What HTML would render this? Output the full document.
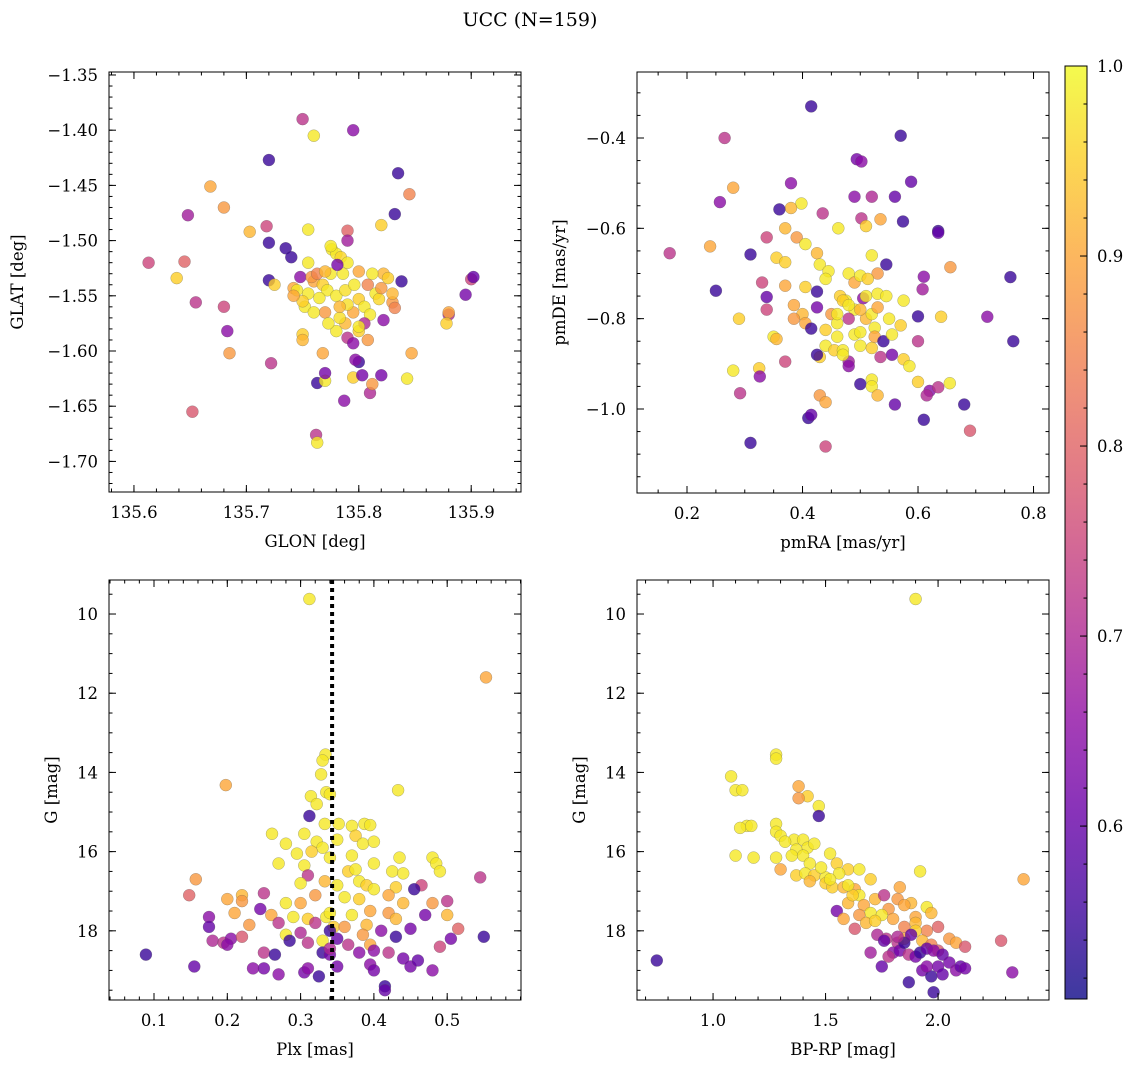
<!DOCTYPE html>
<html><head><meta charset="utf-8"><style>
html,body{margin:0;padding:0;background:#fff;}
svg{display:block;font-family:"DejaVu Serif","Liberation Serif",serif;}
</style></head><body>
<svg id="fig" width="1136" height="1067" viewBox="0 0 1136 1067" xmlns="http://www.w3.org/2000/svg">
<text x="530" y="26" text-anchor="middle" font-size="19">UCC (N=159)</text>
</svg>
<script>
// ---- data: [x, y, membership probability] ----
const posPts = [[135.75,-1.39,0.72],[135.76,-1.405,0.98],[135.795,-1.40,0.65],[135.72,-1.427,0.55],[135.835,-1.439,0.55],[135.845,-1.458,0.85],[135.668,-1.451,0.9],[135.648,-1.477,0.68],[135.68,-1.47,0.88],[135.832,-1.476,0.55],[135.703,-1.492,0.92],[135.718,-1.487,0.75],[135.755,-1.49,0.98],[135.82,-1.486,0.95],[135.72,-1.502,0.55],[135.79,-1.491,0.8],[135.79,-1.50,0.68],[135.735,-1.507,0.55],[135.613,-1.52,0.75],[135.645,-1.519,0.8],[135.638,-1.534,0.95],[135.655,-1.556,0.72],[135.68,-1.56,0.75],[135.683,-1.582,0.65],[135.685,-1.602,0.88],[135.652,-1.655,0.78],[135.722,-1.611,0.72],[135.72,-1.536,0.55],[135.725,-1.54,0.95],[135.74,-1.515,0.55],[135.742,-1.543,0.9],[135.748,-1.533,0.65],[135.755,-1.52,0.98],[135.75,-1.585,0.95],[135.75,-1.59,0.92],[135.752,-1.56,0.98],[135.763,-1.629,0.55],[135.77,-1.627,0.98],[135.77,-1.62,0.62],[135.768,-1.602,0.9],[135.762,-1.676,0.72],[135.763,-1.683,0.98],[135.787,-1.645,0.65],[135.795,-1.624,0.95],[135.8,-1.61,0.55],[135.797,-1.608,0.65],[135.81,-1.638,0.7],[135.812,-1.63,0.88],[135.82,-1.622,0.62],[135.803,-1.622,0.62],[135.843,-1.625,0.98],[135.847,-1.602,0.9],[135.808,-1.59,0.88],[135.8,-1.582,0.95],[135.822,-1.572,0.65],[135.88,-1.567,0.7],[135.88,-1.565,0.9],[135.878,-1.575,0.95],[135.895,-1.549,0.62],[135.9,-1.535,0.75],[135.902,-1.533,0.6],[135.838,-1.537,0.55],[135.83,-1.556,0.88],[135.832,-1.561,0.85],[135.822,-1.53,0.92],[135.776,-1.508,0.98],[135.78,-1.512,0.98],[135.784,-1.515,0.96],[135.79,-1.52,0.98],[135.775,-1.53,0.98],[135.76,-1.537,0.9],[135.768,-1.54,0.95],[135.772,-1.545,0.98],[135.78,-1.55,0.98],[135.788,-1.545,0.97],[135.796,-1.54,0.98],[135.8,-1.553,0.95],[135.805,-1.56,0.98],[135.81,-1.567,0.98],[135.795,-1.565,0.9],[135.788,-1.575,0.92],[135.78,-1.582,0.98],[135.79,-1.588,0.72],[135.795,-1.593,0.65],[135.783,-1.57,0.97],[135.77,-1.565,0.88],[135.765,-1.552,0.98],[135.755,-1.548,0.98],[135.75,-1.555,0.95],[135.745,-1.545,0.98],[135.742,-1.55,0.9],[135.758,-1.533,0.88],[135.763,-1.53,0.85],[135.77,-1.528,0.92],[135.786,-1.53,0.98],[135.8,-1.528,0.9],[135.808,-1.54,0.85],[135.815,-1.548,0.98],[135.818,-1.553,0.96],[135.82,-1.543,0.88],[135.812,-1.53,0.98],[135.826,-1.534,0.95],[135.83,-1.548,0.92],[135.805,-1.575,0.7],[135.8,-1.578,0.98],[135.775,-1.505,0.98],[135.781,-1.522,0.62],[135.79,-1.558,0.97],[135.783,-1.56,0.92],[135.773,-1.575,0.98],[135.76,-1.565,0.98]];
const pmPts = [[0.415,-0.33,0.55],[0.57,-0.395,0.55],[0.265,-0.40,0.72],[0.588,-0.497,0.6],[0.38,-0.50,0.65],[0.494,-0.447,0.62],[0.502,-0.452,0.65],[0.28,-0.51,0.9],[0.257,-0.542,0.65],[0.398,-0.545,0.98],[0.38,-0.555,0.92],[0.36,-0.558,0.55],[0.435,-0.567,0.72],[0.52,-0.53,0.7],[0.49,-0.53,0.65],[0.56,-0.53,0.6],[0.535,-0.58,0.9],[0.502,-0.578,0.72],[0.574,-0.585,0.55],[0.635,-0.606,0.55],[0.635,-0.61,0.6],[0.462,-0.60,0.98],[0.51,-0.595,0.95],[0.37,-0.6,0.92],[0.39,-0.62,0.88],[0.405,-0.635,0.98],[0.338,-0.62,0.75],[0.24,-0.64,0.9],[0.17,-0.655,0.72],[0.31,-0.658,0.55],[0.355,-0.665,0.95],[0.37,-0.675,0.95],[0.425,-0.655,0.92],[0.43,-0.68,0.98],[0.445,-0.695,0.98],[0.52,-0.66,0.98],[0.545,-0.68,0.55],[0.61,-0.707,0.65],[0.656,-0.686,0.88],[0.76,-0.708,0.55],[0.25,-0.738,0.55],[0.37,-0.727,0.9],[0.405,-0.73,0.95],[0.425,-0.74,0.55],[0.44,-0.712,0.98],[0.48,-0.7,0.98],[0.49,-0.72,0.9],[0.5,-0.705,0.98],[0.53,-0.7,0.88],[0.513,-0.712,0.95],[0.465,-0.75,0.95],[0.475,-0.76,0.98],[0.49,-0.78,0.98],[0.505,-0.755,0.65],[0.51,-0.75,0.98],[0.53,-0.745,0.98],[0.545,-0.75,0.98],[0.575,-0.76,0.98],[0.608,-0.735,0.68],[0.33,-0.72,0.75],[0.338,-0.752,0.6],[0.338,-0.78,0.75],[0.385,-0.77,0.9],[0.4,-0.79,0.92],[0.425,-0.775,0.62],[0.45,-0.79,0.88],[0.46,-0.81,0.98],[0.47,-0.76,0.95],[0.48,-0.8,0.72],[0.51,-0.8,0.92],[0.52,-0.79,0.98],[0.53,-0.775,0.9],[0.55,-0.8,0.98],[0.57,-0.815,0.95],[0.6,-0.795,0.55],[0.64,-0.796,0.95],[0.72,-0.796,0.65],[0.765,-0.85,0.55],[0.29,-0.8,0.95],[0.405,-0.81,0.9],[0.385,-0.8,0.88],[0.415,-0.822,0.55],[0.44,-0.825,0.95],[0.46,-0.84,0.98],[0.49,-0.835,0.98],[0.5,-0.83,0.98],[0.525,-0.82,0.98],[0.525,-0.84,0.9],[0.54,-0.85,0.55],[0.555,-0.835,0.98],[0.6,-0.85,0.72],[0.35,-0.84,0.98],[0.355,-0.845,0.92],[0.44,-0.86,0.98],[0.455,-0.87,0.95],[0.47,-0.87,0.98],[0.5,-0.86,0.98],[0.52,-0.865,0.95],[0.555,-0.88,0.62],[0.575,-0.89,0.95],[0.43,-0.885,0.95],[0.425,-0.88,0.55],[0.48,-0.895,0.68],[0.48,-0.905,0.65],[0.47,-0.88,0.98],[0.535,-0.885,0.72],[0.37,-0.895,0.75],[0.28,-0.915,0.98],[0.325,-0.91,0.95],[0.326,-0.928,0.65],[0.292,-0.965,0.72],[0.5,-0.945,0.55],[0.52,-0.935,0.98],[0.52,-0.95,0.98],[0.53,-0.97,0.92],[0.585,-0.905,0.98],[0.6,-0.94,0.95],[0.62,-0.96,0.65],[0.615,-0.97,0.7],[0.655,-0.943,0.98],[0.635,-0.952,0.72],[0.56,-0.99,0.6],[0.43,-0.97,0.88],[0.44,-0.985,0.9],[0.41,-1.02,0.55],[0.415,-1.013,0.6],[0.61,-1.024,0.55],[0.68,-0.99,0.55],[0.69,-1.048,0.78],[0.44,-1.083,0.75],[0.31,-1.075,0.55],[0.46,-0.79,0.98],[0.48,-0.77,0.98],[0.5,-0.78,0.92]];
const plxPts = [[0.312,9.62,0.98],[0.553,11.6,0.9],[0.334,13.55,0.98],[0.33,13.7,0.98],[0.328,14.05,0.98],[0.198,14.32,0.9],[0.335,14.5,0.98],[0.34,14.55,0.98],[0.314,14.6,0.98],[0.433,14.45,0.98],[0.322,14.8,0.98],[0.312,15.1,0.55],[0.387,15.3,0.98],[0.395,15.33,0.98],[0.37,15.35,0.98],[0.352,15.3,0.98],[0.333,15.3,0.98],[0.261,15.55,0.98],[0.305,15.55,0.98],[0.322,15.75,0.98],[0.375,15.6,0.95],[0.35,15.7,0.98],[0.385,15.8,0.98],[0.4,15.75,0.98],[0.28,15.8,0.98],[0.33,15.9,0.98],[0.295,16.05,0.98],[0.315,16.0,0.95],[0.37,16.1,0.98],[0.4,16.3,0.98],[0.435,16.15,0.98],[0.48,16.15,0.98],[0.485,16.3,0.98],[0.34,16.15,0.98],[0.27,16.3,0.98],[0.305,16.35,0.98],[0.365,16.5,0.95],[0.375,16.45,0.98],[0.425,16.5,0.98],[0.44,16.55,0.98],[0.49,16.5,0.98],[0.545,16.65,0.72],[0.157,16.7,0.88],[0.31,16.6,0.72],[0.3,16.8,0.98],[0.333,16.75,0.92],[0.35,16.85,0.98],[0.38,16.75,0.98],[0.39,16.85,0.95],[0.4,16.95,0.98],[0.43,16.9,0.95],[0.465,16.85,0.75],[0.455,16.95,0.55],[0.148,17.1,0.8],[0.25,17.05,0.72],[0.2,17.2,0.9],[0.22,17.1,0.92],[0.22,17.25,0.88],[0.28,17.3,0.98],[0.3,17.3,0.9],[0.32,17.1,0.88],[0.36,17.15,0.98],[0.38,17.2,0.95],[0.42,17.1,0.9],[0.44,17.3,0.92],[0.48,17.3,0.88],[0.5,17.25,0.72],[0.21,17.55,0.9],[0.245,17.45,0.62],[0.26,17.6,0.9],[0.29,17.65,0.98],[0.31,17.7,0.95],[0.335,17.65,0.98],[0.34,17.55,0.98],[0.37,17.6,0.98],[0.395,17.5,0.9],[0.42,17.55,0.88],[0.47,17.6,0.62],[0.5,17.6,0.92],[0.175,17.65,0.65],[0.175,17.9,0.6],[0.23,17.85,0.88],[0.27,17.8,0.72],[0.32,17.8,0.72],[0.345,17.9,0.95],[0.36,17.9,0.88],[0.39,17.85,0.92],[0.43,17.7,0.92],[0.45,17.95,0.62],[0.515,17.95,0.8],[0.18,18.25,0.7],[0.195,18.3,0.72],[0.205,18.2,0.65],[0.22,18.15,0.78],[0.28,18.1,0.98],[0.285,18.25,0.55],[0.3,18.05,0.7],[0.31,18.3,0.72],[0.33,18.25,0.98],[0.34,18.0,0.55],[0.35,18.2,0.6],[0.365,18.35,0.72],[0.385,18.1,0.88],[0.395,18.35,0.9],[0.41,18.0,0.65],[0.43,18.15,0.55],[0.49,18.4,0.75],[0.505,18.2,0.62],[0.55,18.15,0.55],[0.089,18.6,0.55],[0.25,18.55,0.72],[0.265,18.6,0.55],[0.33,18.55,0.55],[0.34,18.6,0.62],[0.38,18.55,0.65],[0.4,18.5,0.65],[0.42,18.55,0.72],[0.44,18.7,0.62],[0.45,18.9,0.62],[0.46,18.75,0.6],[0.48,19.0,0.65],[0.155,18.9,0.6],[0.25,18.95,0.62],[0.27,19.1,0.65],[0.305,19.05,0.62],[0.31,18.95,0.65],[0.325,19.15,0.55],[0.35,18.9,0.62],[0.395,18.85,0.65],[0.415,19.4,0.55],[0.415,19.5,0.6],[0.4,19.0,0.62],[0.2,18.35,0.65],[0.235,18.95,0.65],[0.34,18.45,0.7]];
const cmdPts = [[1.9,9.62,0.98],[2.38,16.7,0.9],[0.75,18.75,0.55],[1.28,13.55,0.98],[1.28,13.65,0.98],[1.08,14.1,0.98],[1.1,14.45,0.98],[1.13,14.45,0.98],[1.38,14.35,0.9],[1.42,14.6,0.95],[1.38,14.65,0.88],[1.47,14.85,0.98],[1.47,15.1,0.55],[1.28,15.3,0.98],[1.28,15.5,0.98],[1.3,15.6,0.98],[1.15,15.35,0.98],[1.12,15.4,0.98],[1.17,15.35,0.98],[1.36,15.7,0.98],[1.32,15.75,0.98],[1.4,15.7,0.98],[1.42,15.9,0.98],[1.37,15.95,0.98],[1.45,15.8,0.98],[1.1,16.1,0.98],[1.18,16.15,0.98],[1.28,16.15,0.98],[1.35,16.1,0.98],[1.4,16.1,0.98],[1.43,16.3,0.98],[1.52,16.05,0.98],[1.55,16.3,0.95],[1.6,16.45,0.95],[1.65,16.45,0.98],[1.3,16.45,0.9],[1.37,16.6,0.95],[1.41,16.55,0.98],[1.45,16.6,0.95],[1.5,16.65,0.98],[1.5,16.8,0.95],[1.53,16.9,0.95],[1.58,16.9,0.92],[1.63,16.95,0.9],[1.65,17.1,0.98],[1.7,16.7,0.95],[1.92,16.5,0.98],[1.48,16.4,0.98],[1.56,16.55,0.98],[1.6,17.3,0.92],[1.67,17.35,0.9],[1.72,17.2,0.92],[1.76,17.1,0.72],[1.78,17.45,0.88],[1.82,17.2,0.88],[1.83,16.9,0.9],[1.88,17.3,0.92],[1.95,17.4,0.98],[1.97,17.55,0.92],[1.9,17.65,0.9],[1.7,17.55,0.98],[1.65,17.6,0.88],[1.75,17.6,0.98],[1.8,17.7,0.9],[1.85,17.9,0.85],[1.9,17.8,0.92],[1.95,18.0,0.85],[2.0,17.9,0.8],[1.73,18.1,0.7],[1.77,18.2,0.72],[1.63,17.95,0.78],[1.55,17.5,0.62],[1.82,18.3,0.72],[1.85,18.2,0.9],[1.9,18.0,0.95],[1.93,18.25,0.92],[1.97,18.35,0.85],[2.0,18.5,0.78],[2.05,18.2,0.88],[2.08,18.3,0.9],[2.12,18.4,0.78],[2.28,18.25,0.78],[1.8,18.55,0.65],[1.83,18.5,0.62],[1.85,18.3,0.55],[1.87,18.6,0.72],[1.9,18.65,0.62],[1.92,18.55,0.55],[1.95,18.45,0.6],[1.98,18.5,0.65],[2.0,18.9,0.62],[2.02,18.6,0.6],[2.05,18.8,0.62],[2.08,19.0,0.65],[2.1,18.9,0.6],[2.12,18.95,0.62],[1.75,18.9,0.6],[1.76,18.25,0.6],[1.87,19.3,0.55],[1.93,19.0,0.62],[1.97,19.15,0.55],[2.02,19.1,0.6],[1.98,19.55,0.55],[2.33,19.05,0.65],[1.7,18.55,0.68],[1.78,18.65,0.72],[1.58,17.7,0.9],[1.62,17.1,0.95],[1.68,17.8,0.92],[1.72,17.75,0.95],[1.85,17.35,0.9],[1.6,16.85,0.98],[1.52,16.7,0.98],[1.43,16.75,0.92],[1.88,18.1,0.6],[1.95,18.9,0.65],[1.82,18.15,0.7]];
const plxMedian = 0.343;
const cbarTicks = [0.6, 0.7, 0.8, 0.9, 1.0];
const cbarRange = [0.509, 1.0];
const p1XTicks = [135.6, 135.7, 135.8, 135.9];
const p1YTicks = [-1.35, -1.40, -1.45, -1.50, -1.55, -1.60, -1.65, -1.70];
const p2XTicks = [0.2, 0.4, 0.6, 0.8];
const p2YTicks = [-0.4, -0.6, -0.8, -1.0];
const p3XTicks = [0.1, 0.2, 0.3, 0.4, 0.5];
const gTicks = [10, 12, 14, 16, 18];
const p4XTicks = [1.0, 1.5, 2.0];

const NS = "http://www.w3.org/2000/svg";
const svg = document.getElementById('fig');
function mk(tag, attrs, parent){ const e=document.createElementNS(NS,tag); for(const k in attrs) e.setAttribute(k,attrs[k]); (parent||svg).appendChild(e); return e; }

const plasma = [[13,8,135],[65,4,157],[106,0,168],[143,13,164],[177,42,144],[204,71,120],[225,100,98],[242,132,75],[252,166,54],[252,206,37],[240,249,33]];
function cmap(v){
  let t=(v-cbarRange[0])/(cbarRange[1]-cbarRange[0]); t=Math.max(0,Math.min(1,t));
  const f=t*10, i=Math.min(9,Math.floor(f)), r=f-i, a=plasma[i], b=plasma[i+1];
  return 'rgb('+[0,1,2].map(k=>Math.round(a[k]+(b[k]-a[k])*r)).join(',')+')';
}
function fmt(v,d){ const s=Math.abs(v).toFixed(d); return (v<0?'\u2212':'')+s; }

function panel(o){
  const g = mk('g',{});
  
  
  const sx = v => o.L + (v-o.x0)/(o.x1-o.x0)*(o.R-o.L);
  const sy = v => o.T + (o.y1-v)/(o.y1-o.y0)*(o.B-o.T);
  const syInv = v => o.T + (v-o.y0)/(o.y1-o.y0)*(o.B-o.T);
  const Y = o.invert ? syInv : sy;
  const pg = mk('g',{}, g);
  
  
  o.pts.forEach(p=>{
    const c = mk('circle',{cx:sx(p[0]).toFixed(1), cy:Y(p[1]).toFixed(1), r:6, fill:cmap(p[2]), 'fill-opacity':0.8, stroke:'#555', 'stroke-width':0.4, 'stroke-opacity':0.6}, pg);
    
    
  });
  if(o.vline!==undefined){
    const vx = sx(o.vline);
    const vg = mk('g',{fill:'#000'}, g);
    
    
    for(let y=o.T; y<o.B; y+=8){
      mk('rect',{x:(vx-2).toFixed(1), y:y, width:4, height:Math.min(4,o.B-y)}, vg);
    }
  }
  const fr = mk('rect',{x:o.L,y:o.T,width:o.R-o.L,height:o.B-o.T,fill:'none',stroke:'#000','stroke-width':1}, g);
  
  
  const tg = mk('g',{stroke:'#000','stroke-width':1}, g);
  function xt(v,len){ const x=sx(v); if(x<o.L-0.5||x>o.R+0.5) return; mk('line',{x1:x,x2:x,y1:o.B,y2:o.B-len},tg); mk('line',{x1:x,x2:x,y1:o.T,y2:o.T+len},tg); }
  function yt(v,len){ const y=Y(v); if(y<o.T-0.5||y>o.B+0.5) return; mk('line',{x1:o.L,x2:o.L+len,y1:y,y2:y},tg); mk('line',{x1:o.R,x2:o.R-len,y1:y,y2:y},tg); }
  const lo=Math.min(o.x0,o.x1), hi=Math.max(o.x0,o.x1);
  for(let k=Math.ceil(lo/o.xm-1e-6);k*o.xm<=hi+1e-9;k++) xt(k*o.xm,3.5);
  const ylo=Math.min(o.y0,o.y1), yhi=Math.max(o.y0,o.y1);
  for(let k=Math.ceil(ylo/o.ym-1e-6);k*o.ym<=yhi+1e-9;k++) yt(k*o.ym,3.5);
  o.xt.forEach(v=>{ xt(v,7);
    const t=mk('text',{x:sx(v),y:o.B+26,'text-anchor':'middle','font-size':16.5},g); t.textContent=fmt(v,o.xd);
      });
  o.yt.forEach(v=>{ yt(v,7);
    const t=mk('text',{x:o.L-11,y:Y(v)+6,'text-anchor':'end','font-size':16.5},g); t.textContent=fmt(v,o.yd);
      });
  const xl=mk('text',{x:(o.L+o.R)/2,y:o.B+55,'text-anchor':'middle','font-size':16.5},g); xl.textContent=o.xlabel;
   
  const cy=(o.T+o.B)/2;
  const yl=mk('text',{x:o.ylx,y:cy,'text-anchor':'middle','font-size':16.5,transform:'rotate(-90 '+o.ylx+' '+cy+')'},g); yl.textContent=o.ylabel;
   
}

panel({name:'glon-glat-panel',pts:posPts,L:109,R:521,T:72,B:492,x0:135.5778,x1:135.9443,y0:-1.7277,y1:-1.3473,xm:0.02,ym:0.01,xt:p1XTicks,yt:p1YTicks,xd:1,yd:2,xlabel:'GLON [deg]',ylabel:'GLAT [deg]',ylx:23});
panel({name:'pm-panel',pts:pmPts,L:637,R:1049,T:72,B:493,x0:0.1134,x1:0.8268,y0:-1.186,y1:-0.2539,xm:0.05,ym:0.05,xt:p2XTicks,yt:p2YTicks,xd:1,yd:1,xlabel:'pmRA [mas/yr]',ylabel:'pmDE [mas/yr]',ylx:565});
panel({name:'plx-g-panel',pts:plxPts,L:109,R:521,T:580,B:1000,x0:0.0386,x1:0.6007,y0:9.141,y1:19.747,invert:true,xm:0.02,ym:0.5,xt:p3XTicks,yt:gTicks,xd:1,yd:0,xlabel:'Plx [mas]',ylabel:'G [mag]',ylx:57,vline:plxMedian});
panel({name:'cmd-panel',pts:cmdPts,L:637,R:1049,T:580,B:1000,x0:0.662,x1:2.493,y0:9.141,y1:19.747,invert:true,xm:0.1,ym:0.5,xt:p4XTicks,yt:gTicks,xd:1,yd:0,xlabel:'BP-RP [mag]',ylabel:'G [mag]',ylx:585});

(function(){
  const L=1065,R=1087,T=66,B=999;
  const g=mk('g',{});
  
  
  const defs=mk('defs',{},g);
  const grad=mk('linearGradient',{id:'cb',x1:0,y1:1,x2:0,y2:0},defs);
  for(let i=0;i<=20;i++){ const v=cbarRange[0]+(cbarRange[1]-cbarRange[0])*i/20; mk('stop',{offset:(i/20),'stop-color':cmap(v),'stop-opacity':0.8},grad); }
  const r=mk('rect',{x:L,y:T,width:R-L,height:B-T,fill:'url(#cb)',stroke:'#000','stroke-width':1},g);
  
  
  const sy=v=>B-(v-cbarRange[0])/(cbarRange[1]-cbarRange[0])*(B-T);
  for(let k=26;k<=50;k++){ const v=k*0.02; if(v<cbarRange[0]) continue; mk('line',{x1:R,x2:R-3.5,y1:sy(v),y2:sy(v),stroke:'#000'},g); }
  cbarTicks.forEach(v=>{ mk('line',{x1:R,x2:R-7,y1:sy(v),y2:sy(v),stroke:'#000'},g);
    const t=mk('text',{x:R+10,y:sy(v)+6,'font-size':16.5},g); t.textContent=v.toFixed(1);
      });
})();
</script>
</body></html>
